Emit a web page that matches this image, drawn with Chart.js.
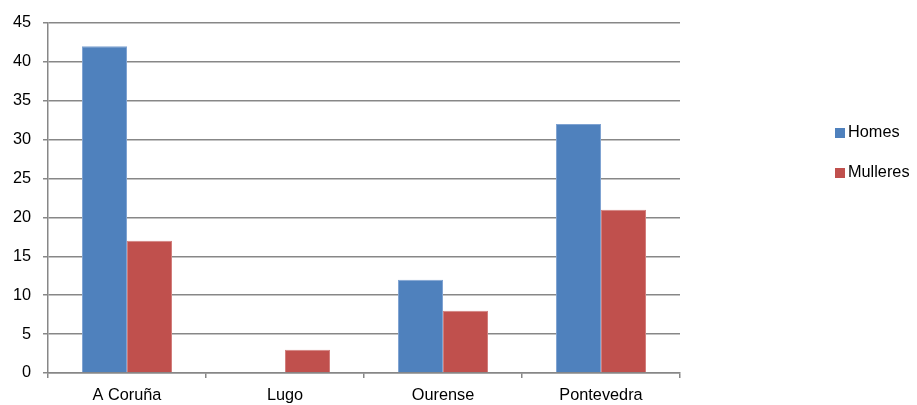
<!DOCTYPE html>
<html>
<head>
<meta charset="utf-8">
<script src="https://cdn.jsdelivr.net/npm/chart.js@4/dist/chart.umd.min.js"></script>
<style>
  html, body { margin: 0; padding: 0; background: #fff; }
  #wrap { position: relative; width: 917px; height: 405px; }
  #legend { position: absolute; left: 835px; top: 121px; font-family: "Liberation Sans", Arial, sans-serif; font-size: 16.3px; color: #000; }
  .li { height: 20px; line-height: 20px; margin-bottom: 20px; white-space: nowrap; }
  .sw { display: inline-block; width: 10px; height: 10px; margin-right: 3px; vertical-align: -1px; }
</style>
</head>
<body>
<div id="wrap">
  <canvas id="c" width="917" height="405"></canvas>
  <div id="legend"></div>
</div>
<script>
const categories = ["A Coruña", "Lugo", "Ourense", "Pontevedra"];
const seriesNames = ["Homes", "Mulleres"];
const homes = [42, 0, 12, 32];
const mulleres = [17, 3, 8, 21];
const seriesColors = ["#4F81BD", "#C0504D"];
const seriesBorders = ["#7FA3D2", "#D27F7D"];
const yTicks = [0, 5, 10, 15, 20, 25, 30, 35, 40, 45];

const font = { family: "'Liberation Sans', Arial, sans-serif", size: 16.3 };
const gridColor = "#878787";

const chart = new Chart(document.getElementById("c"), {
  type: "bar",
  data: {
    labels: categories,
    datasets: [
      { label: seriesNames[0], data: homes, backgroundColor: seriesColors[0], borderColor: seriesBorders[0], borderWidth: 1, borderSkipped: "bottom" },
      { label: seriesNames[1], data: mulleres, backgroundColor: seriesColors[1], borderColor: seriesBorders[1], borderWidth: 1, borderSkipped: "bottom" }
    ]
  },
  options: {
    responsive: false,
    animation: false,
    layout: { padding: { top: 23, right: 237, left: 0, bottom: 0 } },
    plugins: { legend: { display: false }, tooltip: { enabled: false } },
    datasets: { bar: { barPercentage: 1, categoryPercentage: 0.57 } },
    scales: {
      x: {
        grid: { display: true, drawOnChartArea: false, drawTicks: true, tickLength: 5, color: gridColor, lineWidth: 1.5, offset: true },
        border: { display: true, color: gridColor, width: 1.5 },
        ticks: { color: "#000", font: font, padding: 8, maxRotation: 0 },
        afterFit: (s) => { s.height = 32; }
      },
      y: {
        min: 0, max: 45,
        afterBuildTicks: (s) => { s.ticks = yTicks.map(v => ({ value: v })); },
        grid: { color: gridColor, lineWidth: 1.5, tickLength: 5 },
        border: { display: true, color: gridColor, width: 1.5 },
        ticks: { color: "#000", font: font, padding: 12 },
        afterFit: (s) => { s.width = 48; }
      }
    }
  }
});

const leg = document.getElementById("legend");
seriesNames.forEach((n, i) => {
  const d = document.createElement("div");
  d.className = "li";
  d.innerHTML = '<span class="sw" style="background:' + seriesColors[i] + '"></span>' + n;
  leg.appendChild(d);
});
</script>
</body>
</html>
